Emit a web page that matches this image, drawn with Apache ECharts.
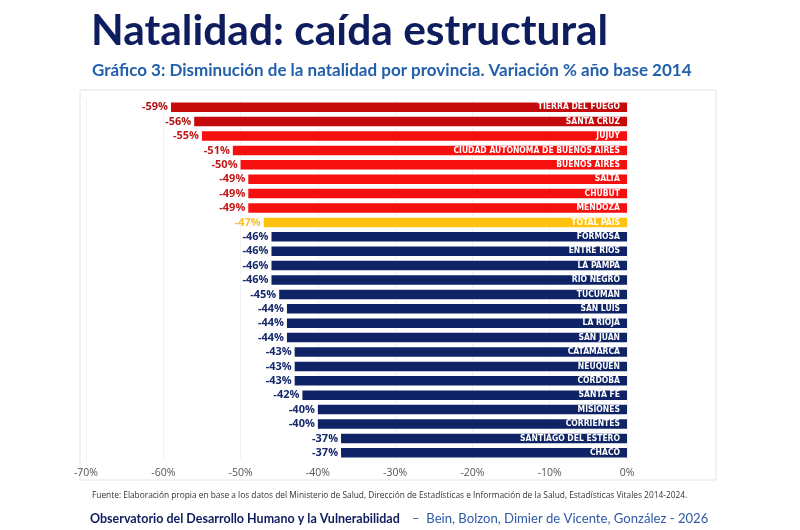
<!DOCTYPE html>
<html>
<head>
<meta charset="utf-8">
<script src="https://cdn.jsdelivr.net/npm/echarts@6/dist/echarts.min.js"></script>
<style>html,body{margin:0;padding:0;background:#fff;}#c{width:800px;height:530px;}</style>
</head>
<body>
<div id="c"></div>
<script>
var provinces = ['TIERRA DEL FUEGO','SANTA CRUZ','JUJUY','CIUDAD AUTÓNOMA DE BUENOS AIRES','BUENOS AIRES','SALTA','CHUBUT','MENDOZA','TOTAL PAÍS','FORMOSA','ENTRE RÍOS','LA PAMPA','RÍO NEGRO','TUCUMÁN','SAN LUIS','LA RIOJA','SAN JUAN','CATAMARCA','NEUQUÉN','CÓRDOBA','SANTA FE','MISIONES','CORRIENTES','SANTIAGO DEL ESTERO','CHACO'];
var values = [-59,-56,-55,-51,-50,-49,-49,-49,-47,-46,-46,-46,-46,-45,-44,-44,-44,-43,-43,-43,-42,-40,-40,-37,-37];
var groups = ['dark','dark','red','red','red','red','red','red','total','blue','blue','blue','blue','blue','blue','blue','blue','blue','blue','blue','blue','blue','blue','blue','blue'];
var xTicks = [-70,-60,-50,-40,-30,-20,-10,0];

var barColor = {dark:'#C40A0A', red:'#F50F0F', total:'#FFC20E', blue:'#0E2466'};
var valColor = {dark:'#B01515', red:'#C41818', total:'#F5BE2A', blue:'#15296B'};

var chart = echarts.init(document.getElementById('c'));
var mainData = values.map(function(v,i){
  return {value:v, itemStyle:{color:barColor[groups[i]]},
    label:{color:valColor[groups[i]]}};
});
var nameData = values.map(function(v,i){ return {value:v, name:provinces[i]}; });

chart.setOption({
  animation:false,
  grid:{left:86, right:173, top:100, height:360},
  xAxis:{type:'value', min:xTicks[0], max:xTicks[xTicks.length-1], interval:10,
    axisLine:{show:false}, axisTick:{show:false},
    splitLine:{show:true, lineStyle:{color:'#f3f3f3', width:1}},
    axisLabel:{formatter:function(v){return v+'%';}, color:'#555', fontSize:10.5, fontFamily:'Open Sans', margin:8}},
  yAxis:{type:'category', data:provinces, inverse:true, show:false},
  graphic:[
    {type:'rect', shape:{x:80, y:90, width:636, height:390}, style:{fill:'none', stroke:'#e4e4e4', lineWidth:1}, z:-1},
    {type:'text', left:91, top:10, style:{text:'Natalidad: caída estructural', font:'bold 42.5px Lato', fill:'#0D1D5E'}},
    {type:'text', left:92, top:62, style:{text:'Gráfico 3: Disminución de la natalidad por provincia. Variación % año base 2014', font:'bold 17px Lato', fill:'#2360AC'}},
    {type:'text', left:92, top:492, style:{text:'Fuente: Elaboración propia en base a los datos del Ministerio de Salud, Dirección de Estadísticas e Información de la Salud, Estadísticas Vitales 2014-2024.', font:'8.35px "Open Sans"', fill:'#333'}},
    {type:'text', left:90, top:512, style:{text:'Observatorio del Desarrollo Humano y la Vulnerabilidad', font:'bold 12.5px Lato', fill:'#0D1D5E'}},
    {type:'text', left:412, top:512, style:{text:'–  Bein, Bolzon, Dimier de Vicente, González - 2026', font:'13.1px Lato', fill:'#2E5AA8'}}
  ],
  series:[
    {type:'bar', data:mainData, barWidth:9.5,
      label:{show:true, position:'left', distance:3, fontFamily:'Open Sans', fontWeight:'bold', fontSize:11,
        formatter:function(p){return p.value+'%';}}},
    {type:'bar', data:nameData, barWidth:9.5, barGap:'-100%', itemStyle:{color:'rgba(0,0,0,0)'},
      label:{show:true, position:'insideRight', distance:7, color:'#fff', fontFamily:'DejaVu Sans Condensed', fontWeight:'bold', fontSize:8.5,
        formatter:function(p){return p.name;}}}
  ]
});
</script>
</body>
</html>
